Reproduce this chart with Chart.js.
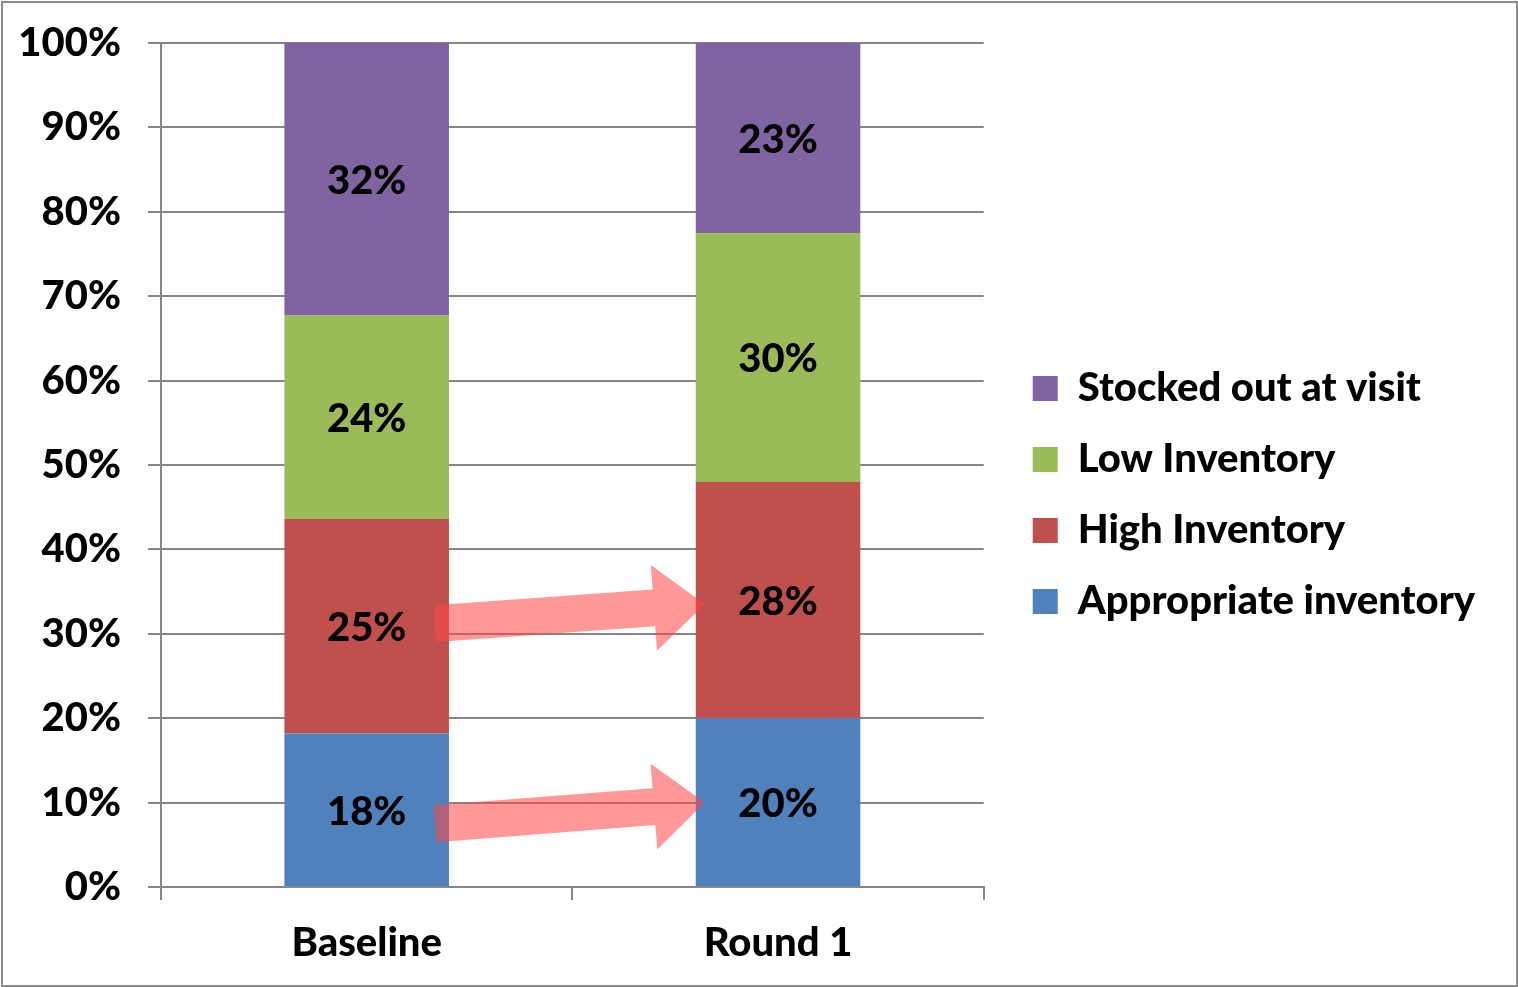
<!DOCTYPE html>
<html>
<head>
<meta charset="utf-8">
<script src="https://cdn.jsdelivr.net/npm/chart.js@4.4.0/dist/chart.umd.min.js"></script>
<style>
  html, body { margin: 0; padding: 0; background: #fff; }
  #wrap { position: relative; width: 1518px; height: 987px; }
</style>
</head>
<body>
<div id="wrap"><canvas id="stockChart" width="1518" height="987"></canvas></div>
<script>
// Chart data (percent of outlets per visit round)
const categories = ['Baseline', 'Round 1'];
const seriesNames = ['Appropriate inventory', 'High Inventory', 'Low Inventory', 'Stocked out at visit'];
const appropriateInv = [18.2, 20.0];
const highInv = [25.4, 28.0];
const lowInv = [24.1, 29.5];
const stockedOut = [32.3, 22.5];
const seriesColors = ['#4F81BD', '#C0504D', '#9BBB59', '#8064A2'];

// Annotation arrows: value at the tail (Baseline) and at the tip (Round 1)
const arrowTail = [31.2, 7.5];
const arrowTip = [33.5, 10.0];

const FONT = 'Lato';
const WEIGHT = '900';
const gridColor = '#868686';

// legend settings; legend + right padding take the space right of the plot
const LEGEND_SPACE = 555;
const legendBox = 25;
const legendPad = 31;
const legendFontSize = 40;

function legendPaddingRight() {
  const ctx = document.createElement('canvas').getContext('2d');
  ctx.font = `${WEIGHT} ${legendFontSize}px ${FONT}`;
  const widest = Math.max(...seriesNames.map(s => ctx.measureText(s).width));
  const natural = legendPad * 2 + legendBox + legendFontSize / 2 + widest;
  return Math.max(0, Math.round(LEGEND_SPACE - natural));
}

// outer frame around the whole chart
const framePlugin = {
  id: 'frame',
  beforeDraw(chart) {
    const ctx = chart.ctx;
    ctx.save();
    ctx.fillStyle = '#fff';
    ctx.fillRect(0, 0, chart.width, chart.height);
    ctx.strokeStyle = '#8c8c8c';
    ctx.lineWidth = 2;
    ctx.strokeRect(2, 2, chart.width - 3, chart.height - 3);
    ctx.restore();
  }
};

// push the legend a bit away from the plot area and up
const legendShift = {
  id: 'legendShift',
  afterLayout(chart) {
    const lg = chart.legend;
    if (lg) {
      lg.left += 18;
      lg.right += 18;
      lg.top -= 20;
      lg.bottom -= 20;
    }
  }
};

// block arrows between the two bars, then the percentage labels
const overlayPlugin = {
  id: 'overlay',
  afterDatasetsDraw(chart) {
    const ctx = chart.ctx;
    const y = chart.scales.y;
    const bar0 = chart.getDatasetMeta(0).data;
    ctx.save();

    ctx.fillStyle = 'rgba(255, 70, 70, 0.55)';
    arrowTail.forEach((tv, i) => {
      const x1 = bar0[0].x + bar0[0].width / 2 - 14;
      const y1 = y.getPixelForValue(tv);
      const x2 = bar0[1].x - bar0[1].width / 2 + 9;
      const y2 = y.getPixelForValue(arrowTip[i]);
      const len = Math.hypot(x2 - x1, y2 - y1);
      const ux = (x2 - x1) / len, uy = (y2 - y1) / len;
      const px = -uy, py = ux;
      const shaft = 18.5, head = 43, headLen = 51;
      const bx = x2 - ux * headLen, by = y2 - uy * headLen;
      ctx.beginPath();
      ctx.moveTo(x1 + px * shaft, y1 + py * shaft);
      ctx.lineTo(bx + px * shaft, by + py * shaft);
      ctx.lineTo(bx + px * head, by + py * head);
      ctx.lineTo(x2, y2);
      ctx.lineTo(bx - px * head, by - py * head);
      ctx.lineTo(bx - px * shaft, by - py * shaft);
      ctx.lineTo(x1 - px * shaft, y1 - py * shaft);
      ctx.closePath();
      ctx.fill();
    });

    ctx.fillStyle = '#000';
    ctx.font = `${WEIGHT} 40px ${FONT}`;
    ctx.textAlign = 'center';
    ctx.textBaseline = 'middle';
    chart.data.datasets.forEach((ds, di) => {
      chart.getDatasetMeta(di).data.forEach((el, i) => {
        const c = el.getCenterPoint();
        ctx.fillText(Math.round(ds.data[i]) + '%', c.x, c.y + 2);
      });
    });
    ctx.restore();
  }
};

const seriesData = [appropriateInv, highInv, lowInv, stockedOut];

const chart = new Chart(document.getElementById('stockChart'), {
  type: 'bar',
  data: {
    labels: categories,
    datasets: seriesNames.map((name, i) => ({
      label: name,
      data: seriesData[i],
      backgroundColor: seriesColors[i],
      borderWidth: 0,
      categoryPercentage: 0.4,
      barPercentage: 1.0
    }))
  },
  options: {
    responsive: false,
    animation: false,
    layout: { padding: { top: 43, left: 0, right: legendPaddingRight(), bottom: 0 } },
    scales: {
      x: {
        stacked: true,
        afterFit(scale) { scale.height = 100; },
        grid: { display: true, drawOnChartArea: false, drawTicks: true, tickLength: 13, color: gridColor, lineWidth: 2 },
        border: { display: true, color: gridColor, width: 2 },
        ticks: { color: '#000', font: { family: FONT, size: 40, weight: WEIGHT }, padding: 19 }
      },
      y: {
        stacked: true,
        min: 0,
        max: 100,
        afterFit(scale) {
          scale.width = 161;
          scale.paddingTop = 0;
          scale.paddingBottom = 0;
        },
        grid: { color: gridColor, lineWidth: 2, tickLength: 13 },
        border: { display: true, color: gridColor, width: 2 },
        ticks: {
          stepSize: 10,
          color: '#000',
          padding: 27,
          font: { family: FONT, size: 40, weight: WEIGHT },
          callback: (v) => v + '%'
        }
      }
    },
    plugins: {
      legend: {
        position: 'right',
        reverse: true,
        maxWidth: LEGEND_SPACE,
        labels: {
          boxWidth: legendBox,
          boxHeight: legendBox,
          padding: legendPad,
          color: '#000',
          font: { family: FONT, size: legendFontSize, weight: WEIGHT }
        }
      },
      tooltip: { enabled: false }
    }
  },
  plugins: [framePlugin, legendShift, overlayPlugin]
});
</script>
</body>
</html>
